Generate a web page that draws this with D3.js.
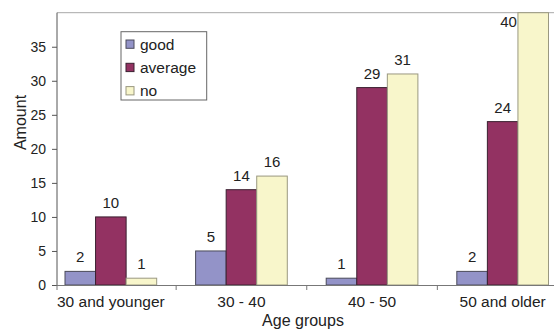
<!DOCTYPE html>
<html>
<head>
<meta charset="utf-8">
<script src="https://cdn.jsdelivr.net/npm/d3@7"></script>
<style>
  html, body { margin: 0; padding: 0; background: #fff; }
  svg { display: block; font-family: "Liberation Sans", Arial, sans-serif; }
</style>
</head>
<body>
<svg id="chart" width="554" height="332"></svg>
<script>
// Survey answers per age group
const categories = ["30 and younger", "30 - 40", "40 - 50", "50 and older"];
const seriesNames = ["good", "average", "no"];
const good = [2, 5, 1, 2];
const average = [10, 14, 29, 24];
const no = [1, 16, 31, 40];
const yTicks = [0, 5, 10, 15, 20, 25, 30, 35];
const yMax = 40;

const seriesValues = [good, average, no];
const colors = ["#9393c8", "#933262", "#f8f6cb"];
const strokes = ["#4a4a5a", "#3a2030", "#9a9880"];

const svg = d3.select("#chart");
const W = 554, H = 332;
const plot = { left: 57, top: 12.7, right: 560, bottom: 285 };

const x0 = d3.scaleBand()
  .domain(categories)
  .range([65, 548.5])
  .paddingInner(0.298)
  .paddingOuter(0);
const x1 = d3.scaleBand()
  .domain(seriesNames)
  .range([0, x0.bandwidth()]);
const y = d3.scaleLinear().domain([0, yMax]).range([plot.bottom, plot.top]);

// Plot frame: grey top edge, dark value axis on the left
svg.append("line")
  .attr("x1", plot.left).attr("x2", W)
  .attr("y1", plot.top).attr("y2", plot.top)
  .attr("stroke", "#a8a8a8").attr("stroke-width", 1);

// Value axis
const yAxis = svg.append("g")
  .attr("transform", `translate(${plot.left},0)`)
  .call(d3.axisLeft(y).tickValues(yTicks).tickSize(5).tickPadding(6).tickFormat(d3.format("d")));
yAxis.select(".domain").attr("stroke", "#555").attr("d", `M0,${plot.top}V${plot.bottom}`);
yAxis.selectAll(".tick line").attr("stroke", "#555");
yAxis.selectAll(".tick text")
  .attr("fill", "#222").attr("font-size", 14)
  .attr("font-family", "Liberation Sans, Arial, sans-serif");

// Bars
const groups = svg.append("g").selectAll("g")
  .data(categories)
  .join("g")
  .attr("transform", d => `translate(${x0(d)},0)`);

groups.selectAll("rect")
  .data((c, ci) => seriesNames.map((s, si) => ({ s, si, v: seriesValues[si][ci] })))
  .join("rect")
  .attr("x", d => x1(d.s))
  .attr("y", d => y(d.v))
  .attr("width", x1.bandwidth())
  .attr("height", d => y(0) - y(d.v))
  .attr("fill", d => colors[d.si])
  .attr("stroke", d => strokes[d.si])
  .attr("stroke-width", 1);

// Value labels; a label that would run past the top edge sits beside its bar
groups.selectAll("text")
  .data((c, ci) => seriesNames.map((s, si) => ({ s, si, v: seriesValues[si][ci] })))
  .join("text")
  .attr("font-size", 15)
  .attr("fill", "#222")
  .each(function (d) {
    const t = d3.select(this);
    const top = y(d.v) - 9;
    if (top - 12 < plot.top) {
      t.attr("x", x1(d.s) - 1).attr("y", plot.top + 14).attr("text-anchor", "end");
    } else {
      t.attr("x", x1(d.s) + x1.bandwidth() / 2).attr("y", top).attr("text-anchor", "middle");
    }
  })
  .text(d => d.v);

// Category axis
svg.append("line")
  .attr("x1", plot.left).attr("x2", W)
  .attr("y1", plot.bottom + 0.5).attr("y2", plot.bottom + 0.5)
  .attr("stroke", "#777");
const step = x0.step();
const gap = step * x0.paddingInner();
const bounds = [plot.left].concat(categories.slice(1).map(c => x0(c) - gap / 2));
svg.append("g").selectAll("line")
  .data(bounds)
  .join("line")
  .attr("x1", d => d).attr("x2", d => d)
  .attr("y1", plot.bottom).attr("y2", plot.bottom + 5)
  .attr("stroke", "#777");

svg.append("g").selectAll("text")
  .data(categories)
  .join("text")
  .attr("x", d => x0(d) + x0.bandwidth() / 2)
  .attr("y", 306.5)
  .attr("text-anchor", "middle")
  .attr("font-size", 15.5)
  .attr("fill", "#222")
  .text(d => d);

// Axis titles
svg.append("text")
  .attr("x", 303).attr("y", 325.5)
  .attr("text-anchor", "middle")
  .attr("font-size", 16)
  .attr("fill", "#222")
  .text("Age groups");

svg.append("text")
  .attr("transform", "translate(25.5,122.5) rotate(-90)")
  .attr("text-anchor", "middle")
  .attr("font-size", 16)
  .attr("fill", "#222")
  .text("Amount");

// Legend
const legend = svg.append("g").attr("transform", "translate(121,31.7)");
legend.append("rect")
  .attr("width", 85.7).attr("height", 68.3)
  .attr("fill", "#fff").attr("stroke", "#666");
const items = legend.selectAll("g")
  .data(seriesNames)
  .join("g")
  .attr("transform", (d, i) => `translate(5,${8.3 + i * 23.3})`);
items.append("rect")
  .attr("width", 8).attr("height", 8.3)
  .attr("fill", (d, i) => colors[i])
  .attr("stroke", (d, i) => strokes[i]);
items.append("text")
  .attr("x", 14).attr("y", 9.7)
  .attr("font-size", 15.5)
  .attr("fill", "#222")
  .text(d => d);
</script>
</body>
</html>
